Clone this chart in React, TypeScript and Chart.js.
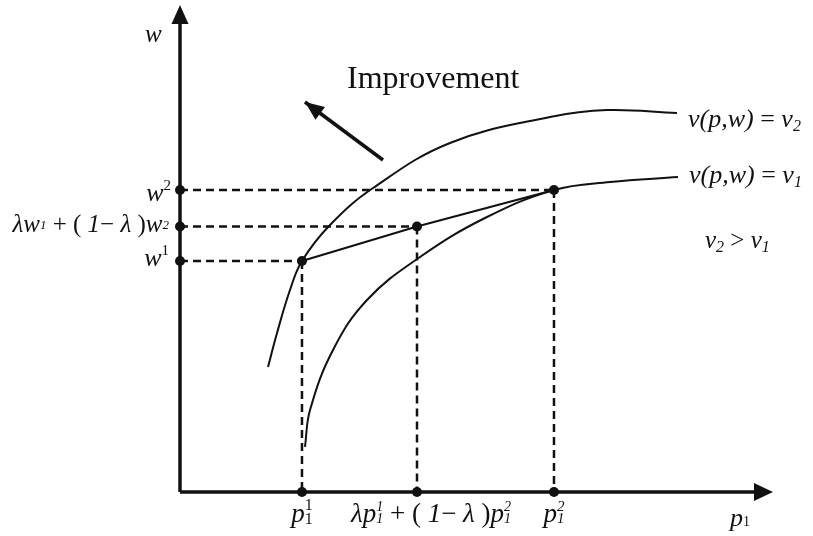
import React, { useEffect, useRef } from "react";
import { Chart, registerables } from "chart.js";

Chart.register(...registerables);

// ---- data (chart units: x 0..100, y 0..100) ----
const X_MIN = 0;
const X_MAX = 100;
const Y_MIN = 0;
const Y_MAX = 100;
const X_AXIS_TIP = 98.83;
const Y_AXIS_TIP = 101.46;

// indifference curve v(p,w) = v2 (upper)
const upperCurveX = [14.67, 16.17, 18.33, 20.33, 25, 32.17, 45, 61.67, 71.17, 82.83];
const upperCurveY = [26.04, 33.13, 42.08, 48.13, 55.63, 63.33, 72.71, 78.13, 79.58, 78.96];

// indifference curve v(p,w) = v1 (lower)
const lowerCurveX = [20.83, 21.67, 25.5, 31.17, 40, 50.83, 62.33, 71.67, 83];
const lowerCurveY = [9.38, 17.08, 29.58, 40, 48.96, 57.08, 62.92, 64.58, 65.63];

// the three bundles: (p1^1, w1), convex combination, (p1^2, w2)
const bundleX = [20.33, 39.5, 62.33];
const bundleY = [48.13, 55.31, 62.92];

// "Improvement" arrow (tail -> head)
const improveX = [33.83, 20.83];
const improveY = [69.17, 81.25];

const INK = "#111111";
const SERIF = '"Liberation Serif", "Times New Roman", "DejaVu Serif", serif';

type Seg = { t: string; s: number; i?: boolean; dy?: number; stack?: boolean };

function font(seg: Seg) {
  return `${seg.i ? "italic " : ""}${seg.s}px ${SERIF}`;
}

function richWidth(ctx: CanvasRenderingContext2D, segs: Seg[]) {
  let w = 0;
  let pending = 0;
  for (const seg of segs) {
    ctx.font = font(seg);
    const sw = ctx.measureText(seg.t).width;
    if (seg.stack) {
      pending = sw;
    } else {
      w += Math.max(sw, pending);
      pending = 0;
    }
  }
  return w;
}

function drawRich(
  ctx: CanvasRenderingContext2D,
  x: number,
  y: number,
  segs: Seg[],
  align: "left" | "center" | "right" = "left"
) {
  const total = richWidth(ctx, segs);
  let cx = align === "left" ? x : align === "center" ? x - total / 2 : x - total;
  let pending = 0;
  ctx.textAlign = "left";
  ctx.textBaseline = "alphabetic";
  ctx.fillStyle = INK;
  for (const seg of segs) {
    ctx.font = font(seg);
    const sw = ctx.measureText(seg.t).width;
    ctx.fillText(seg.t, cx, y + (seg.dy || 0));
    if (seg.stack) {
      pending = sw;
    } else {
      cx += Math.max(sw, pending);
      pending = 0;
    }
  }
}

function arrowHead(
  ctx: CanvasRenderingContext2D,
  tipX: number,
  tipY: number,
  fromX: number,
  fromY: number,
  len: number,
  half: number
) {
  const a = Math.atan2(tipY - fromY, tipX - fromX);
  const bx = tipX - len * Math.cos(a);
  const by = tipY - len * Math.sin(a);
  ctx.beginPath();
  ctx.moveTo(tipX, tipY);
  ctx.lineTo(bx + half * Math.sin(a), by - half * Math.cos(a));
  ctx.lineTo(bx - half * Math.sin(a), by + half * Math.cos(a));
  ctx.closePath();
  ctx.fillStyle = INK;
  ctx.fill();
}

const annotationPlugin = {
  id: "annotations",
  afterDatasetsDraw(chart: any) {
    const ctx: CanvasRenderingContext2D = chart.ctx;
    const px = (v: number) => chart.scales.x.getPixelForValue(v);
    const py = (v: number) => chart.scales.y.getPixelForValue(v);
    const ox = px(0);
    const oy = py(0);
    ctx.save();

    // axis arrowheads
    arrowHead(ctx, ox, py(Y_AXIS_TIP), ox, oy, 19, 8.5);
    arrowHead(ctx, px(X_AXIS_TIP), oy, ox, oy, 19, 9);
    // improvement arrowhead
    arrowHead(
      ctx,
      px(improveX[1]),
      py(improveY[1]),
      px(improveX[0]),
      py(improveY[0]),
      19,
      8
    );

    // axis names
    drawRich(ctx, 145, 42, [{ t: "w", s: 25, i: true }]);
    drawRich(ctx, px(X_AXIS_TIP) - 43, oy + 34, [
      { t: "p", s: 26, i: true },
      { t: "1", s: 14, dy: 0 },
    ]);

    // w-axis labels
    drawRich(
      ctx,
      ox - 9,
      py(bundleY[2]) + 11,
      [
        { t: "w", s: 26, i: true },
        { t: "2", s: 15, dy: -11 },
      ],
      "right"
    );
    drawRich(
      ctx,
      ox - 11,
      py(bundleY[1]) + 5,
      [
        { t: "λw", s: 25, i: true },
        { t: "1", s: 13, i: true, dy: -3 },
        { t: " + ( ", s: 25 },
        { t: "1", s: 25, i: true },
        { t: "− ", s: 25 },
        { t: "λ", s: 25, i: true },
        { t: " )", s: 25 },
        { t: "w", s: 25, i: true },
        { t: "2", s: 13, i: true, dy: -3 },
      ],
      "right"
    );
    drawRich(
      ctx,
      ox - 11,
      py(bundleY[0]) + 5,
      [
        { t: "w", s: 26, i: true },
        { t: "1", s: 15, dy: -11 },
      ],
      "right"
    );

    // p-axis labels
    const base = oy + 30;
    drawRich(
      ctx,
      px(bundleX[0]),
      base,
      [
        { t: "p", s: 27, i: true },
        { t: "1", s: 16, dy: -12, stack: true },
        { t: "1", s: 16, dy: 2 },
      ],
      "center"
    );
    drawRich(
      ctx,
      px(bundleX[1]) + 14,
      base,
      [
        { t: "λp", s: 27, i: true },
        { t: "1", s: 14, i: true, dy: -11, stack: true },
        { t: "1", s: 14, i: true, dy: 1 },
        { t: " + (", s: 27 },
        { t: " 1", s: 27, i: true },
        { t: "− ", s: 27 },
        { t: "λ", s: 27, i: true },
        { t: " )", s: 27 },
        { t: "p", s: 27, i: true },
        { t: "2", s: 14, i: true, dy: -11, stack: true },
        { t: "1", s: 14, i: true, dy: 1 },
      ],
      "center"
    );
    drawRich(
      ctx,
      px(bundleX[2]),
      base,
      [
        { t: "p", s: 27, i: true },
        { t: "2", s: 15, i: true, dy: -11, stack: true },
        { t: "1", s: 15, i: true, dy: 1 },
      ],
      "center"
    );

    // curve labels
    const uEnd = upperCurveX.length - 1;
    const lEnd = lowerCurveX.length - 1;
    drawRich(ctx, px(upperCurveX[uEnd]) + 11, py(upperCurveY[uEnd]) + 14, [
      { t: "v(p,w)", s: 26, i: true },
      { t: " = ", s: 26 },
      { t: "v", s: 26, i: true },
      { t: "2", s: 16, i: true, dy: 4 },
    ]);
    drawRich(ctx, px(lowerCurveX[lEnd]) + 11, py(lowerCurveY[lEnd]) + 6, [
      { t: "v(p,w)", s: 26, i: true },
      { t: " = ", s: 26 },
      { t: "v", s: 26, i: true },
      { t: "1", s: 16, i: true, dy: 4 },
    ]);
    drawRich(ctx, 705, 248, [
      { t: "v", s: 25, i: true },
      { t: "2", s: 16, i: true, dy: 4 },
      { t: " > ", s: 25 },
      { t: "v", s: 25, i: true },
      { t: "1", s: 16, i: true, dy: 4 },
    ]);

    // Improvement
    drawRich(ctx, 347, 88, [{ t: "Improvement", s: 32 }]);

    ctx.restore();
  },
};

export default function App() {
  const ref = useRef<HTMLCanvasElement>(null);

  useEffect(() => {
    const canvas = ref.current;
    if (!canvas) return;
    const pts = (xs: number[], ys: number[]) => xs.map((x, i) => ({ x, y: ys[i] }));

    const line = (data: any[], extra: any = {}) => ({
      type: "scatter",
      data,
      showLine: true,
      borderColor: INK,
      backgroundColor: INK,
      borderWidth: 2,
      pointRadius: 0,
      pointHoverRadius: 0,
      clip: false,
      ...extra,
    });

    const datasets: any[] = [];

    // axes
    datasets.push(line([{ x: 0, y: 0 }, { x: 0, y: Y_AXIS_TIP - 2.5 }], { borderWidth: 3.5 }));
    datasets.push(line([{ x: 0, y: 0 }, { x: X_AXIS_TIP - 2, y: 0 }], { borderWidth: 3.5 }));

    // dashed guide lines
    bundleX.forEach((bx, i) => {
      const by = bundleY[i];
      datasets.push(
        line(
          [
            { x: 0, y: by },
            { x: bx, y: by },
          ],
          { borderDash: [8, 5], borderWidth: 2.5 }
        )
      );
      datasets.push(
        line(
          [
            { x: bx, y: by },
            { x: bx, y: 0 },
          ],
          { borderDash: [8, 5], borderWidth: 2.5 }
        )
      );
    });

    // curves
    datasets.push(line(pts(upperCurveX, upperCurveY), { tension: 0.4 }));
    datasets.push(line(pts(lowerCurveX, lowerCurveY), { tension: 0.4 }));

    // chord through the bundles
    datasets.push(line(pts(bundleX, bundleY)));

    // improvement arrow shaft
    datasets.push(line(pts(improveX, improveY), { borderWidth: 3.5 }));

    // dots
    const dots = [
      ...pts(bundleX, bundleY),
      ...bundleY.map((y) => ({ x: 0, y })),
      ...bundleX.map((x) => ({ x, y: 0 })),
    ];
    datasets.push({
      type: "scatter",
      data: dots,
      showLine: false,
      pointRadius: 5,
      pointHoverRadius: 5,
      pointBackgroundColor: INK,
      pointBorderColor: INK,
      pointBorderWidth: 0,
      clip: false,
    });

    const chart = new Chart(canvas, {
      type: "scatter",
      data: { datasets },
      options: {
        responsive: false,
        animation: false,
        events: [],
        layout: { padding: { left: 180, right: 33, top: 12, bottom: 44 } },
        scales: {
          x: { type: "linear", min: X_MIN, max: X_MAX, display: false },
          y: { type: "linear", min: Y_MIN, max: Y_MAX, display: false },
        },
        plugins: {
          legend: { display: false },
          tooltip: { enabled: false },
        },
      },
      plugins: [annotationPlugin],
    } as any);

    return () => chart.destroy();
  }, []);

  return (
    <div style={{ position: "fixed", left: 0, top: 0, width: 813, height: 536, background: "#fff" }}>
      <canvas ref={ref} width={813} height={536} style={{ width: 813, height: 536 }} />
    </div>
  );
}
